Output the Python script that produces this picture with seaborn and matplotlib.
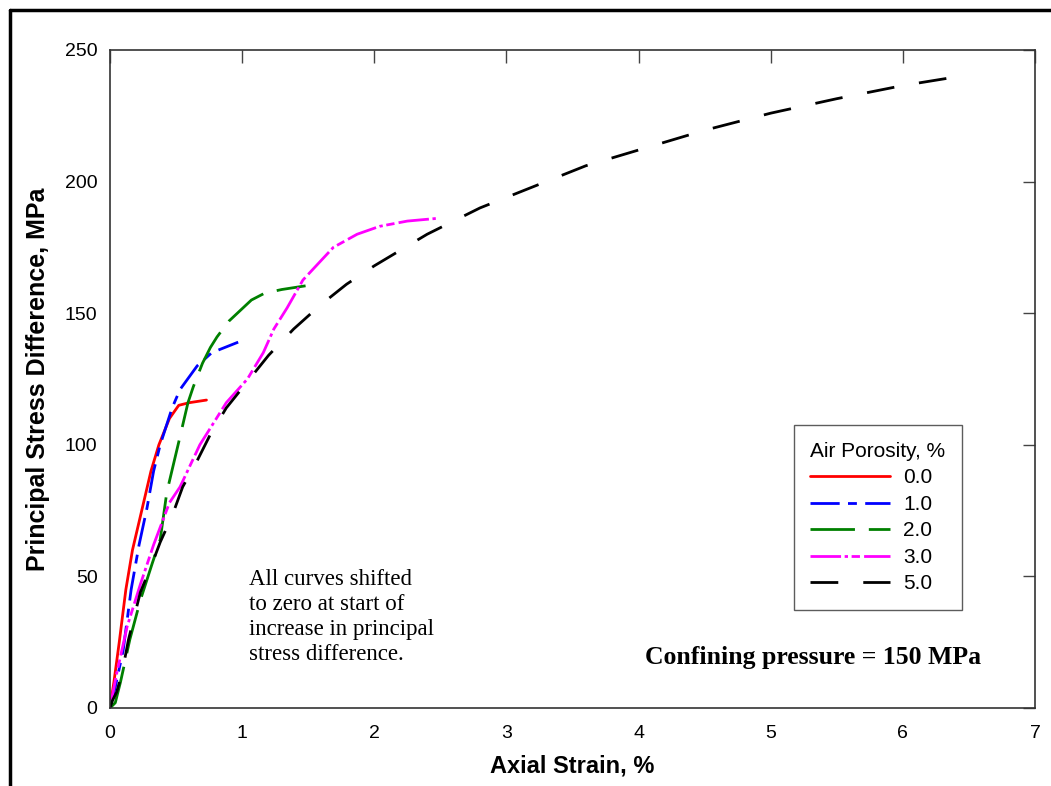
import numpy as np
import pandas as pd
import matplotlib
matplotlib.use("Agg")
import matplotlib.pyplot as plt
from matplotlib.lines import Line2D
import seaborn as sns

# ---- data ----
strain_00 = [0, 0.03, 0.07, 0.12, 0.17, 0.24, 0.31, 0.37, 0.45, 0.52, 0.60, 0.73]
stress_00 = [0, 10, 25, 45, 60, 75, 90, 100, 110, 115, 116, 117]

strain_10 = [0, 0.04, 0.10, 0.16, 0.22, 0.28, 0.33, 0.38, 0.47, 0.53, 0.66, 0.77, 0.97]
stress_10 = [0, 8, 22, 45, 62, 76, 90, 100, 114, 121, 130, 135, 139]

strain_20 = [0, 0.04, 0.08, 0.15, 0.23, 0.32, 0.38, 0.43, 0.52, 0.59, 0.63, 0.70, 0.76, 0.81, 0.90, 1.07, 1.17, 1.30, 1.48]
stress_20 = [0, 2, 10, 26, 41, 55, 64, 82, 101, 116, 122, 131, 137, 141, 147, 155, 157.6, 159, 160.4]

strain_30 = [0, 0.05, 0.13, 0.23, 0.33, 0.45, 0.53, 0.68, 0.88, 1.04, 1.16, 1.24, 1.34, 1.46, 1.56, 1.69, 1.87, 2.04, 2.25, 2.47]
stress_30 = [0, 13, 31, 47, 62, 78, 84, 100, 116, 125, 135, 144, 152, 162.6, 168, 175, 180, 183, 185, 186]

strain_50 = [0, 0.02, 0.05, 0.09, 0.14, 0.23, 0.32, 0.38, 0.47, 0.55, 0.66, 0.76, 0.88, 1.04, 1.20, 1.39, 1.59, 1.79, 2.0, 2.2, 2.4, 2.6, 2.8, 3.0, 3.2, 3.6, 4.0, 4.5, 5.0, 5.5, 6.0, 6.43]
stress_50 = [0, 3, 6, 13, 26, 44, 55, 63, 73, 84, 94, 104, 114, 124, 134, 144, 153, 161, 168, 174, 180, 185, 190, 194, 198, 206, 212, 219.5, 226, 231.5, 236.5, 240]

porosity_labels = ["0.0", "1.0", "2.0", "3.0", "5.0"]
x_ticks = [0, 1, 2, 3, 4, 5, 6, 7]
y_ticks = [0, 50, 100, 150, 200, 250]

series = [strain_00, strain_10, strain_20, strain_30, strain_50]
values = [stress_00, stress_10, stress_20, stress_30, stress_50]

frames = []
for lab, xs, ys in zip(porosity_labels, series, values):
    frames.append(pd.DataFrame({"strain": xs, "stress": ys, "porosity": lab}))
df = pd.concat(frames, ignore_index=True)

colors = {"0.0": "#ff0000", "1.0": "#0000ff", "2.0": "#008000", "3.0": "#ff00ff", "5.0": "#000000"}
dashes = {"0.0": "", "1.0": (10.5, 3, 3.2, 3), "2.0": (16, 5), "3.0": (11, 1.3, 1.2, 1.3, 3, 1.5),
          "5.0": (10, 9)}
LW = 2.0

sns.set_theme(style="white")
plt.rcParams["font.family"] = ["Liberation Sans", "DejaVu Sans"]
plt.rcParams["text.color"] = "black"
plt.rcParams["axes.labelcolor"] = "black"
plt.rcParams["xtick.color"] = "black"
plt.rcParams["ytick.color"] = "black"
plt.rcParams["lines.solid_capstyle"] = "round"

fig = plt.figure(figsize=(10.51, 7.86), dpi=100)
ax = fig.add_axes([110 / 1051, 78 / 786, 925 / 1051, 658 / 786])

sns.lineplot(data=df, x="strain", y="stress", hue="porosity", style="porosity",
             palette=colors, dashes=dashes, sort=False, estimator=None,
             linewidth=LW, ax=ax, legend=False)

ax.set_xlim(0, 7)
ax.set_ylim(0, 250)
ax.set_xticks(x_ticks)
ax.set_yticks(y_ticks)
ax.tick_params(direction="in", length=9, width=1, top=True, right=True,
               labelsize=14, colors="#444444", labelcolor="black")
ax.tick_params(axis="x", pad=12)
ax.tick_params(axis="y", pad=9)
for s in ax.spines.values():
    s.set_visible(True)
    s.set_color("#333333")
    s.set_linewidth(1.2)

ax.set_xlabel("Axial Strain, %", fontsize=17, fontweight="bold", labelpad=9)
ax.set_ylabel("Principal Stress Difference, MPa", fontsize=18, fontweight="bold", labelpad=11)

# legend
handles = []
for l in porosity_labels:
    h = Line2D([0], [0], color=colors[l], lw=LW)
    if dashes[l]:
        h.set_dashes(dashes[l])
    handles.append(h)
leg = ax.legend(handles, porosity_labels, title="Air Porosity, %", loc="lower right",
                bbox_to_anchor=((962 - 110) / 925, (708 - 610) / 658), frameon=True, fancybox=False,
                fontsize=15, title_fontsize=15, handlelength=3.85, alignment="left",
                handletextpad=0.62, labelspacing=0.36, borderpad=0.8, borderaxespad=0)
leg.get_frame().set_edgecolor("#333333")
leg.get_frame().set_linewidth(1.0)

ax.text(1.05, 53, "All curves shifted\nto zero at start of\nincrease in principal\nstress difference.",
        fontsize=16.5, family=["Liberation Serif", "DejaVu Serif"], va="top", ha="left",
        linespacing=1.25)
ax.text(4.05, 19, "Confining pressure = 150 MPa", fontsize=18.5, fontweight="bold",
        family=["Liberation Serif", "DejaVu Serif"], va="center", ha="left")

# outer frame lines (top and left)
fig.add_artist(Line2D([10 / 1051, 1.0], [1 - 10 / 786, 1 - 10 / 786], color="black", lw=2.5,
                      transform=fig.transFigure))
fig.add_artist(Line2D([10 / 1051, 10 / 1051], [0, 1 - 10 / 786], color="black", lw=2.5,
                      transform=fig.transFigure))

fig.savefig("out.png", dpi=100)
